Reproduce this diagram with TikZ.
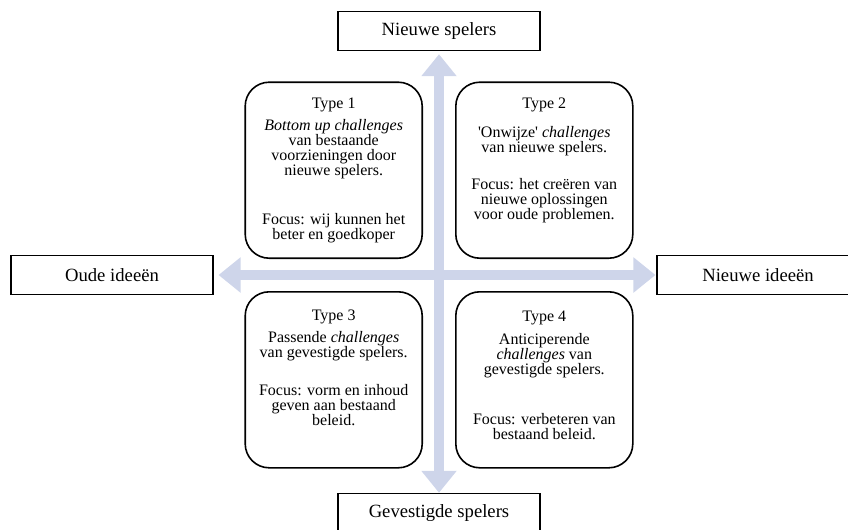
\documentclass[tikz,border=0pt]{standalone}
\usepackage{fontspec}
\setmainfont{Liberation Serif}[Ligatures=TeXOff]
\usepackage{tikz}
\usetikzlibrary{arrows.meta, positioning}
\definecolor{axisblue}{HTML}{CED5EA}

\begin{document}
\begin{tikzpicture}[
  x=0.75pt, y=-0.75pt,
  lbl/.style = {
    rectangle, draw=black, line width=0.8pt,
    minimum width=151.5pt, minimum height=29.5pt,
    font=\fontsize{14}{16}\selectfont
  },
  quad/.style = {
    rectangle, rounded corners=18pt, draw=black, line width=1.2pt,
    minimum width=132.75pt, minimum height=132pt
  },
  qtext/.style = {
    align=center, inner sep=0pt,
    font=\fontsize{12}{11.25}\selectfont
  },
  arr/.style = {{Triangle[length=16.5pt, width=25.5pt]}-{Triangle[length=16.5pt, width=25.5pt]},
    line width=7.5pt, color=axisblue}
]
  \useasboundingbox (0,0) rectangle (848,529);
  \clip (0,0) rectangle (848,529);
  \coordinate (c) at (439,275);

  \node[lbl] (nwsp)  at (439,31)  {Nieuwe spelers};
  \node[lbl] (gvsp)  at (439,513) {Gevestigde spelers};
  \node[lbl] (oud)   at (112,275) {Oude ideeën};
  \node[lbl] (nieuw) at (758,275) {Nieuwe ideeën};

  \draw[arr, shorten <=2.25pt] (nwsp) -- (gvsp);
  \draw[arr, shorten <=3.75pt, shorten >=0.75pt] (oud) -- (nieuw);

  \node[quad, above left=12pt and 12pt of c]  (t1) {};
  \node[quad, above right=12pt and 12pt of c] (t2) {};
  \node[quad, below left=12pt and 12pt of c]  (t3) {};
  \node[quad, below right=12pt and 12pt of c] (t4) {};

  \node[qtext, below=12pt of t1.north] (t1txt) {Type 1\\[5.25pt]
    \textit{Bottom up challenges}\\van bestaande\\voorzieningen door\\nieuwe spelers.\\[25.5pt]
    Focus: wij kunnen het\\beter en goedkoper};
  \node[qtext, below=12pt of t2.north] (t2txt) {Type 2\\[10.5pt]
    'Onwijze' \textit{challenges}\\van nieuwe spelers.\\[16.5pt]
    Focus: het creëren van\\nieuwe oplossingen\\voor oude problemen.};
  \node[qtext, below=14pt of t3.north] (t3txt) {Type 3\\[5.25pt]
    Passende \textit{challenges}\\van gevestigde spelers.\\[17.25pt]
    Focus: vorm en inhoud\\geven aan bestaand\\beleid.};
  \node[qtext, below=15pt of t4.north] (t4txt) {Type 4\\[6pt]
    Anticiperende\\\textit{challenges} van\\gevestigde spelers.\\[26.25pt]
    Focus: verbeteren van\\bestaand beleid.};
\end{tikzpicture}
\end{document}
